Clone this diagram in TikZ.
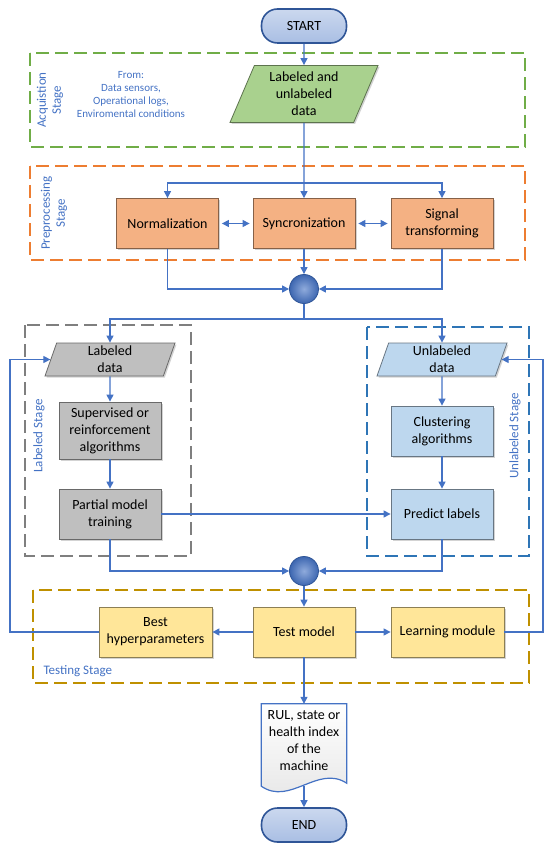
\documentclass[tikz,border=0pt]{standalone}
\usepackage{fontspec}
\setmainfont{Carlito}
\usetikzlibrary{shapes.geometric,arrows.meta,calc,shadows}

\definecolor{flowblue}{HTML}{4472C4}
\definecolor{darkblue}{HTML}{2F5597}
\definecolor{termfill}{HTML}{B4C7E7}
\definecolor{greenfill}{HTML}{A9D18E}
\definecolor{orangefill}{HTML}{F4B183}
\definecolor{grayfill}{HTML}{BFBFBF}
\definecolor{bluefill}{HTML}{BDD7EE}
\definecolor{yellowfill}{HTML}{FFE699}
\definecolor{acqframe}{HTML}{70AD47}
\definecolor{preframe}{HTML}{ED7D31}
\definecolor{labframe}{HTML}{7F7F7F}
\definecolor{unlframe}{HTML}{2E75B6}
\definecolor{tstframe}{HTML}{BF9000}

\newcommand{\midx}{304}
\newcommand{\boxfont}{\fontsize{14}{17}\selectfont}

\tikzset{
  flow/.style={flowblue, line width=1.2pt, -{Triangle[length=7pt,width=7pt]}},
  twoway/.style={flowblue, line width=1.2pt, {Triangle[length=7pt,width=7pt]}-{Triangle[length=7pt,width=7pt]}, shorten <=3pt, shorten >=3pt},
  stageframe/.style={line width=1.8pt, dash pattern=on 13pt off 6pt},
  stagetext/.style={flowblue, font=\fontsize{13}{15}\selectfont, align=center},
  procbox/.style={rectangle, draw=#1!55!black, fill=#1, line width=0.8pt, minimum width=102pt, minimum height=50pt, align=center, inner sep=2pt, font=\boxfont, drop shadow={shadow xshift=1.5pt, shadow yshift=-1.5pt, opacity=0.35}},
  databox/.style={trapezium, trapezium stretches body, draw=#1!55!black, fill=#1, line width=0.8pt, align=center, inner sep=1pt, font=\boxfont, drop shadow={shadow xshift=1.5pt, shadow yshift=-1.5pt, opacity=0.35}},
  terminal/.style={rectangle, rounded corners=16pt, draw=darkblue, line width=1.6pt, top color=termfill!70!white, bottom color=termfill!90!flowblue, minimum width=85pt, minimum height=34pt, font=\boxfont},
  joint/.style={circle, draw=darkblue, line width=0.8pt, inner color=flowblue!60!white, outer color=flowblue!90!black, minimum size=29pt, inner sep=0pt},
}

\begin{document}
\begin{tikzpicture}[x=1pt,y=-1pt]
\useasboundingbox (0,0) rectangle (550,850);

% draw stage frames
\draw[stageframe, acqframe] (30,53) rectangle (525,147);
\draw[stageframe, preframe] (30,166) rectangle (525,260);
\draw[stageframe, labframe] (25,325) rectangle (191,556);
\draw[stageframe, unlframe] (367,327) rectangle (529,556);
\draw[stageframe, tstframe] (33,590) rectangle (529,683);

% stage labels
\node[stagetext, rotate=90] (acqlabel) at (50,100) {Acquistion\\Stage};
\node[stagetext, rotate=90] (prelabel) at (54,213) {Preprocessing\\Stage};
\node[stagetext, rotate=90] (lablabel) at (39,436) {Labeled Stage};
\node[stagetext, rotate=90] (unllabel) at (515,436) {Unlabeled Stage};
\node[stagetext, anchor=west] (tstlabel) at (40,671) {Testing Stage};
\node[flowblue, align=center, font=\fontsize{11}{13}\selectfont] (sources) at (131,94.5) {From:\\Data sensors,\\Operational logs,\\Enviromental conditions};

% draw nodes
\node[terminal] (start) at (\midx,26) {START};
\node[databox=greenfill, trapezium left angle=62, trapezium right angle=118, minimum width=148pt, minimum height=57pt] (raw) at (\midx,94) {Labeled and\\unlabeled\\data};

\node[procbox=orangefill] (norm) at (167.5,223.5) {Normalization};
\node[procbox=orangefill] (sync) at (\midx,223.5) {Syncronization};
\node[procbox=orangefill] (signal) at (442,223.5) {Signal\\transforming};
\node[joint] (merge1) at (\midx,289) {};

\node[databox=grayfill, trapezium left angle=68, trapezium right angle=112, minimum width=130pt, minimum height=33pt] (labdata) at (110,359.5) {Labeled\\data};
\node[procbox=grayfill, minimum height=57pt] (superv) at (110,430.5) {Supervised or\\reinforcement\\algorithms};
\node[procbox=grayfill] (partial) at (110,514) {Partial model\\training};

\node[databox=bluefill, trapezium left angle=68, trapezium right angle=112, minimum width=130pt, minimum height=33pt] (unldata) at (442,359.5) {Unlabeled\\data};
\node[procbox=bluefill] (cluster) at (442,431) {Clustering\\algorithms};
\node[procbox=bluefill] (predict) at (442,514) {Predict labels};
\node[joint] (merge2) at (\midx,571) {};

\node[procbox=yellowfill, minimum width=113pt] (best) at (155.5,632) {Best\\hyperparameters};
\node[procbox=yellowfill] (test) at (\midx,632) {Test model};
\node[procbox=yellowfill, minimum width=113pt] (learn) at (447.5,632) {Learning module};

\node[rectangle, minimum width=85pt, minimum height=82pt, align=center, font=\boxfont] (out) at (\midx,745) {};
\draw[flowblue, line width=1.2pt, top color=white, bottom color=black!10] (out.south west) -- (out.north west) -- (out.north east) -- ($(out.south east)+(0,-3)$) .. controls ($(out.south)+(14,-22)$) and ($(out.south)+(-14,20)$) .. (out.south west) -- cycle;
\node[align=center, font=\boxfont, anchor=north] (outtext) at ($(out.north)+(0,3)$) {RUL, state or\\health index\\of the\\machine};
\node[terminal] (stop) at (\midx,825) {END};

% draw arrows
\coordinate (split1) at (\midx,183);
\coordinate (split2) at (\midx,319);
\coordinate (loopl) at (10,0);
\coordinate (loopr) at (543,0);

\draw[flow] (start.south) -- (raw.north);
\draw[flow] (raw.south) -- (sync.north);
\draw[flow] (split1) -| (norm.north);
\draw[flow] (split1) -| (signal.north);
\draw[twoway] (norm.east) -- (sync.west);
\draw[twoway] (sync.east) -- (signal.west);
\draw[flow] (norm.south) |- (merge1.west);
\draw[flow] (sync.south) -- (merge1.north);
\draw[flow] (signal.south) |- (merge1.east);

\draw[flow] (merge1.south) -- (split2) -| (labdata.north);
\draw[flow] (split2) -| (unldata.north);
\draw[flow] (labdata.south) -- (superv.north);
\draw[flow] (superv.south) -- (partial.north);
\draw[flow] (unldata.south) -- (cluster.north);
\draw[flow] (cluster.south) -- (predict.north);
\draw[flow] (partial.east) -- (predict.west);
\draw[flow] (partial.south) |- (merge2.west);
\draw[flow] (predict.south) |- (merge2.east);

\draw[flow] (merge2.south) -- (test.north);
\draw[flow] (test.west) -- (best.east);
\draw[flow] (test.east) -- (learn.west);
\draw[flow] (best.west) -- (best.west -| loopl) |- (labdata.west);
\draw[flow] (learn.east) -- (learn.east -| loopr) |- (unldata.east);
\draw[flow] (test.south) -- (out.north);
\draw[flow] (out.south) -- (stop.north);

\end{tikzpicture}
\end{document}
